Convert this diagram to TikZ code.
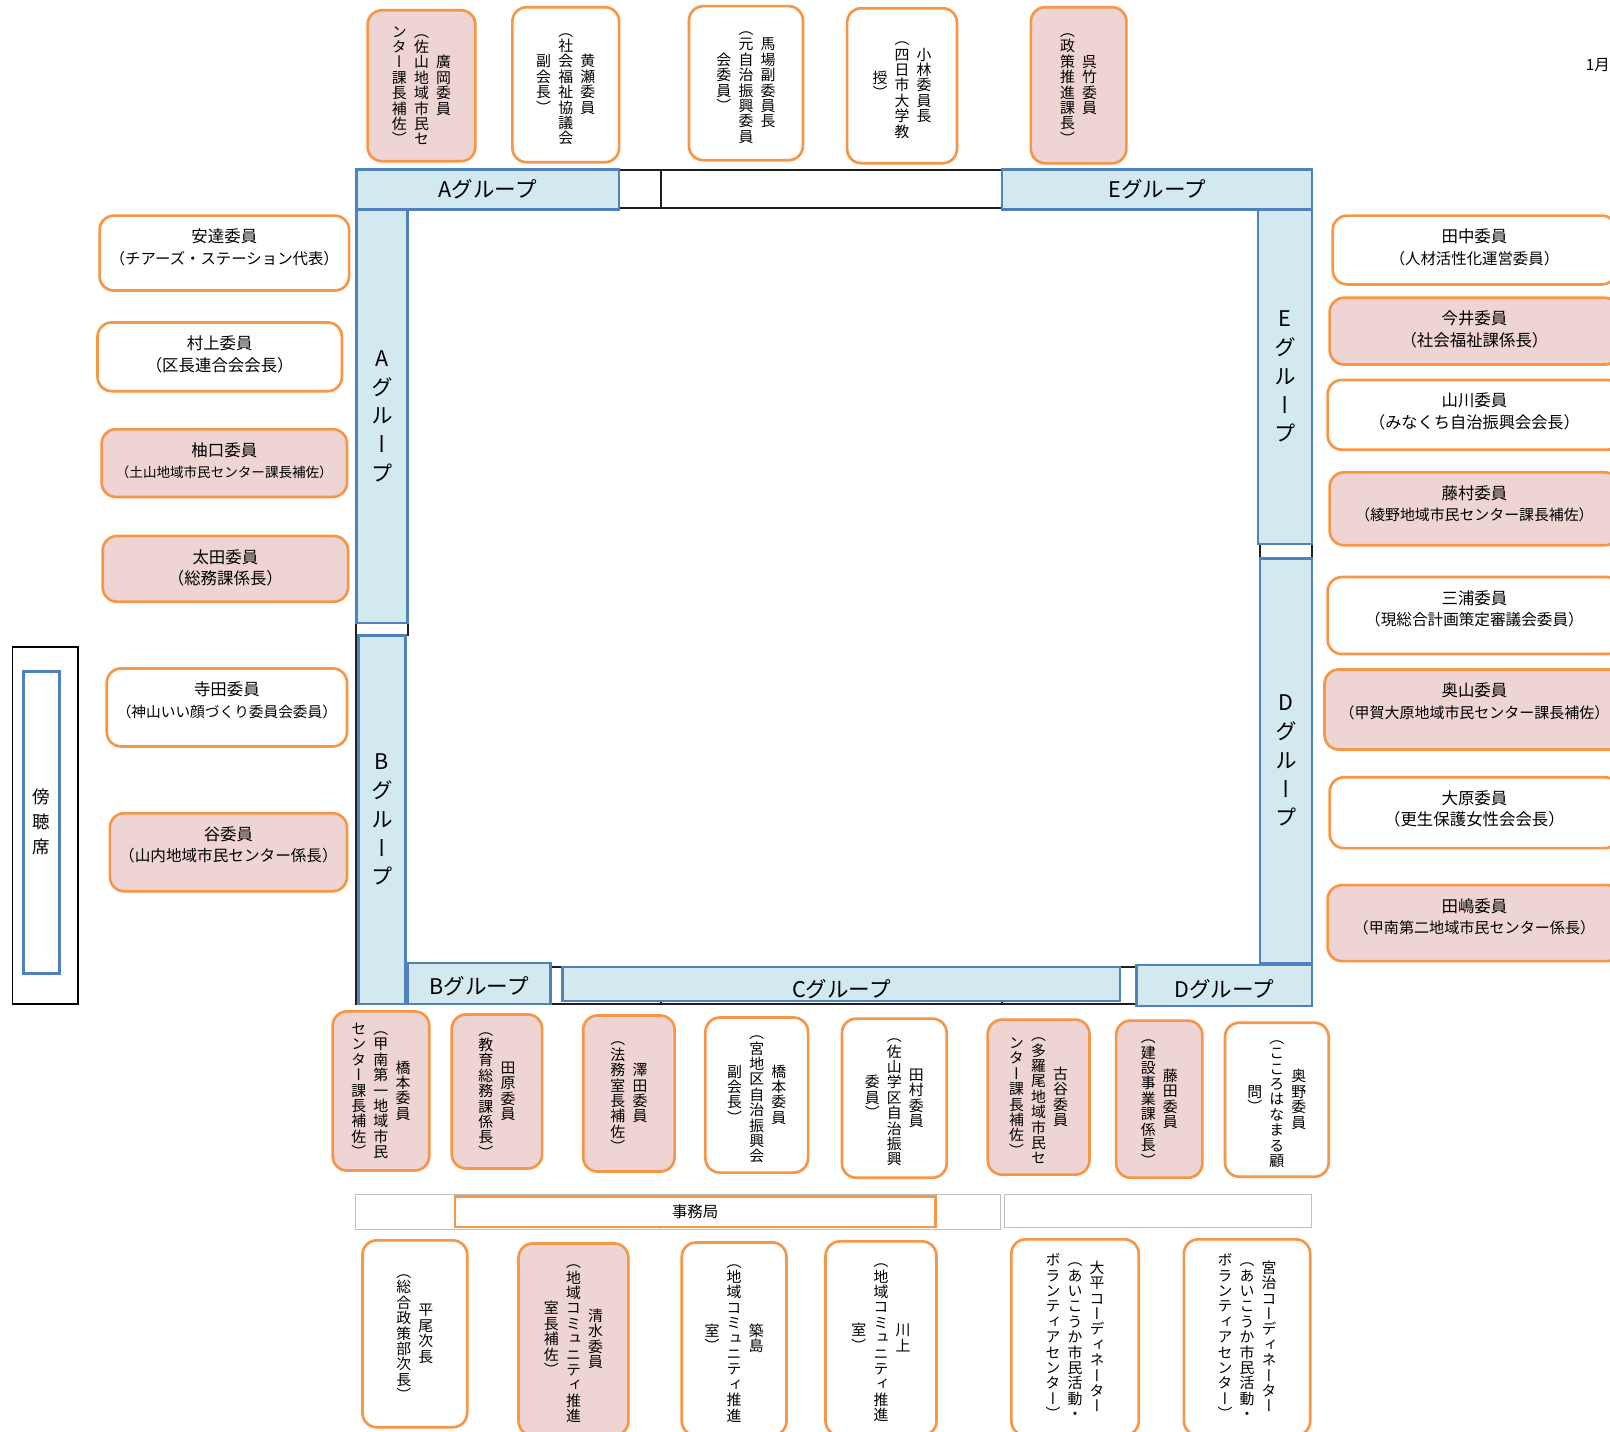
\documentclass[tikz,border=0pt]{standalone}
\usepackage{fontspec}
\setmainfont{Noto Sans CJK JP}
\newfontfamily\tatefont[RawFeature=+vert]{Noto Sans CJK JP}
\usetikzlibrary{positioning}

\definecolor{seatorange}{RGB}{247,150,70}
\definecolor{seatpink}{RGB}{239,212,212}
\definecolor{grpblue}{RGB}{79,129,189}
\definecolor{grpfill}{RGB}{210,233,239}

\ExplSyntaxOn
\NewDocumentCommand\tcol{O{15pt}m}{
  $\vcenter{\tatefont\baselineskip=#1\lineskiplimit=-\maxdimen
    \tl_map_inline:nn{#2}{\hbox{\vrule~height~.85em~depth~.15em~width~0pt\hbox~to~1em{\hss##1\hss}}}}$}
\ExplSyntaxOff

\tikzset{
  seat/.style={draw=seatorange, line width=2.6pt, rounded corners=14pt, fill=white, inner sep=0pt},
  pinkseat/.style={seat, fill=seatpink},
  tate/.style={font=\fontsize{14.5}{15}\selectfont},
  yoko/.style={font=\fontsize{16}{21}\selectfont, align=center, inner sep=0pt},
  grp/.style={draw=grpblue, fill=grpfill, line width=2.4pt, inner sep=0pt, font=\fontsize{21}{27}\selectfont},
  tableline/.style={line width=2pt, draw=black!88},
  grayline/.style={line width=1pt, draw=black!25}
}

\begin{document}
\begin{tikzpicture}[x=1pt, y=-1pt]
    \useasboundingbox (0,0) rectangle (1568,1394.6);
    \fill[white] (0,0) rectangle (1568,1394.6);
    \node[font=\fontsize{15}{18}\selectfont, anchor=west] (date) at (1541,63) {1月};

    \draw[tableline] (347,165.5) rectangle (1278,978);
    \draw[tableline] (603,202.5) -- (976,202.5);
    \draw[tableline] (644,165.5) -- (644,202.5);
    \draw[tableline] (347,607) -- (397,607) -- (397,619);
    \draw[tableline] (536,942) -- (1107,942);
    \draw[tableline] (644,942) -- (644,978);
    \draw[tableline] (976,942) -- (976,978);
    \draw[tableline] (1227,530) -- (1227,544);

    \node[grp, minimum width=256, minimum height=39] (grpAtop) at (475,184.5) {Aグループ};
    \node[grp, minimum width=302, minimum height=39] (grpEtop) at (1127,184.5) {Eグループ};
    \node[grp, minimum width=50, minimum height=403] (grpAleft) at (372,405.5) {\tcol[28pt]{Aグループ}};
    \node[grp, minimum width=46, minimum height=359] (grpBleft) at (372,798.5) {\tcol[28pt]{Bグループ}};
    \node[grp, minimum width=139, minimum height=40, text height=25pt, text depth=3pt] (grpBbot) at (466.5,958) {Bグループ};
    \node[grp, minimum width=543, minimum height=33, text height=28pt, text depth=3pt] (grpC) at (819.5,958.5) {Cグループ};
    \node[grp, minimum width=171, minimum height=40, text height=25pt, text depth=3pt] (grpDbot) at (1192.5,960) {Dグループ};
    \node[grp, minimum width=53, minimum height=326] (grpEright) at (1251.5,367) {\tcol[28pt]{Eグループ}};
    \node[grp, minimum width=51, minimum height=394] (grpDright) at (1252.5,741) {\tcol[28pt]{Dグループ}};

    \node[pinkseat, tate, minimum width=105, minimum height=147] (hirooka) at (410.5,83.5) {\tcol{ンター課長補佐）}\hspace{7pt}\tcol{（佐山地域市民セ}\hspace{7pt}\tcol{廣岡委員}};
    \node[seat, tate, minimum width=104, minimum height=151] (kise) at (551,82.5) {\tcol{副会長）}\hspace{7pt}\tcol{（社会福祉協議会}\hspace{7pt}\tcol{黄瀬委員}};
    \node[seat, tate, minimum width=111, minimum height=150] (baba) at (726.5,81) {\tcol{会委員）}\hspace{7pt}\tcol{（元自治振興委員}\hspace{7pt}\tcol{馬場副委員長}};
    \node[seat, tate, minimum width=107, minimum height=151] (kobayashi) at (878.5,83.5) {\tcol{授）}\hspace{7pt}\tcol{（四日市大学教}\hspace{7pt}\tcol{小林委員長}};
    \node[pinkseat, tate, minimum width=93, minimum height=152] (kuretake) at (1050.5,83) {\tcol{（政策推進課長）}\hspace{7pt}\tcol{呉竹委員}};

    \node[seat, minimum width=243, minimum height=73] (adachi) at (218.5,246.5) {};
    \node[yoko, below=14pt of adachi.north] (adachi-t) {安達委員\\\fontsize{15}{21}\selectfont （チアーズ・ステーション代表）};
    \node[seat, minimum width=238, minimum height=67] (murakami) at (214,347.5) {};
    \node[yoko, below=14pt of murakami.north] (murakami-t) {村上委員\\\fontsize{16}{21}\selectfont （区長連合会会長）};
    \node[pinkseat, minimum width=239, minimum height=66] (yuguchi) at (218.5,451) {};
    \node[yoko, below=14pt of yuguchi.north] (yuguchi-t) {柚口委員\\\fontsize{13.2}{21}\selectfont （土山地域市民センター課長補佐）};
    \node[pinkseat, minimum width=239, minimum height=64] (oota) at (219.5,554) {};
    \node[yoko, below=14pt of oota.north] (oota-t) {太田委員\\\fontsize{16}{21}\selectfont （総務課係長）};
    \node[seat, minimum width=234, minimum height=76] (terada) at (221,689) {};
    \node[yoko, below=14pt of terada.north] (terada-t) {寺田委員\\\fontsize{14.3}{21}\selectfont （神山いい顔づくり委員会委員）};
    \node[pinkseat, minimum width=231, minimum height=76] (tani) at (222.5,830) {};
    \node[yoko, below=14pt of tani.north] (tani-t) {谷委員\\\fontsize{15.2}{21}\selectfont （山内地域市民センター係長）};

    \node[draw, line width=1.6pt, minimum width=64, minimum height=348] (bouchou) at (44,804) {};
    \node[draw=grpblue, line width=2.5pt, minimum width=35, minimum height=294, font=\fontsize{17}{24}\selectfont] (bouchou-in) at (40.5,801) {\tcol[24pt]{傍聴席}};

    \node[seat, minimum width=276, minimum height=67] (tanaka) at (1436,243.5) {};
    \node[yoko, below=14pt of tanaka.north] (tanaka-t) {田中委員\\\fontsize{15}{21}\selectfont （人材活性化運営委員）};
    \node[pinkseat, minimum width=282, minimum height=65] (imai) at (1436,322.5) {};
    \node[yoko, below=14pt of imai.north] (imai-t) {今井委員\\\fontsize{16}{21}\selectfont （社会福祉課係長）};
    \node[seat, minimum width=286, minimum height=68] (yamakawa) at (1436,404) {};
    \node[yoko, below=14pt of yamakawa.north] (yamakawa-t) {山川委員\\\fontsize{15.8}{21}\selectfont （みなくち自治振興会会長）};
    \node[pinkseat, minimum width=282, minimum height=71] (fujimura) at (1436,495.5) {};
    \node[yoko, below=14pt of fujimura.north] (fujimura-t) {藤村委員\\\fontsize{14.5}{21}\selectfont （綾野地域市民センター課長補佐）};
    \node[seat, minimum width=286, minimum height=75] (miura) at (1436,599.5) {};
    \node[yoko, below=14pt of miura.north] (miura-t) {三浦委員\\\fontsize{15.2}{21}\selectfont （現総合計画策定審議会委員）};
    \node[pinkseat, minimum width=292, minimum height=78] (okuyama) at (1436,691) {};
    \node[yoko, below=14pt of okuyama.north] (okuyama-t) {奥山委員\\\fontsize{14.6}{21}\selectfont （甲賀大原地域市民センター課長補佐）};
    \node[seat, minimum width=282, minimum height=69] (oohara) at (1436,791.5) {};
    \node[yoko, below=14pt of oohara.north] (oohara-t) {大原委員\\\fontsize{16}{21}\selectfont （更生保護女性会会長）};
    \node[pinkseat, minimum width=286, minimum height=74] (tajima) at (1436,899) {};
    \node[yoko, below=14pt of tajima.north] (tajima-t) {田嶋委員\\\fontsize{14.7}{21}\selectfont （甲南第二地域市民センター係長）};

    \node[pinkseat, tate, minimum width=94, minimum height=155] (hashimotoA) at (371,1062.5) {\tcol{センター課長補佐）}\hspace{7pt}\tcol{（甲南第一地域市民}\hspace{7pt}\tcol{橋本委員}};
    \node[pinkseat, tate, minimum width=88, minimum height=150] (tahara) at (484,1063) {\tcol{（教育総務課係長）}\hspace{7pt}\tcol{田原委員}};
    \node[pinkseat, tate, minimum width=89, minimum height=152] (sawada) at (612.5,1065) {\tcol{（法務室長補佐）}\hspace{7pt}\tcol{澤田委員}};
    \node[seat, tate, minimum width=100, minimum height=151] (hashimotoB) at (737,1066.5) {\tcol{副会長）}\hspace{7pt}\tcol{（宮地区自治振興会}\hspace{7pt}\tcol{橋本委員}};
    \node[seat, tate, minimum width=102, minimum height=155] (tamura) at (871,1069.5) {\tcol{委員）}\hspace{7pt}\tcol{（佐山学区自治振興}\hspace{7pt}\tcol{田村委員}};
    \node[pinkseat, tate, minimum width=99, minimum height=151] (furuya) at (1011.5,1068.5) {\tcol{ンター課長補佐）}\hspace{7pt}\tcol{（多羅尾地域市民セ}\hspace{7pt}\tcol{古谷委員}};
    \node[pinkseat, tate, minimum width=84, minimum height=153] (fujita) at (1129,1070.5) {\tcol{（建設事業課係長）}\hspace{7pt}\tcol{藤田委員}};
    \node[seat, tate, minimum width=101, minimum height=150] (okuno) at (1243.5,1071) {\tcol{問）}\hspace{7pt}\tcol{（こころはなまる顧}\hspace{7pt}\tcol{奥野委員}};

    \draw[grayline] (346,1163) rectangle (974,1197);
    \draw[grayline] (643,1163) -- (643,1197);
    \draw[grayline] (978,1163) rectangle (1277,1195);
    \node[draw=seatorange, line width=2.6pt, fill=white, minimum width=468, minimum height=30, font=\fontsize{15}{18}\selectfont] (jimukyoku) at (677,1180) {事務局};

    \node[seat, tate, minimum width=102, minimum height=182] (hirao) at (404,1299) {\tcol{（総合政策部次長）}\hspace{7pt}\tcol{平尾次長}};
    \node[pinkseat, tate, minimum width=107, minimum height=187] (shimizu) at (558.5,1304.5) {\tcol{室長補佐）}\hspace{7pt}\tcol{（地域コミュニティ推進}\hspace{7pt}\tcol{清水委員}};
    \node[seat, tate, minimum width=102, minimum height=188] (tsukishima) at (715,1304) {\tcol{室）}\hspace{7pt}\tcol{（地域コミュニティ推進}\hspace{7pt}\tcol{築島}};
    \node[seat, tate, minimum width=108, minimum height=189] (kawakami) at (858,1303.5) {\tcol{室）}\hspace{7pt}\tcol{（地域コミュニティ推進}\hspace{7pt}\tcol{川上}};
    \node[seat, tate, minimum width=124, minimum height=191] (oohira) at (1047,1302.5) {\tcol{ボランティアセンター）}\hspace{7pt}\tcol{（あいこうか市民活動・}\hspace{7pt}\tcol{大平コーディネーター}};
    \node[seat, tate, minimum width=123, minimum height=191] (miyaji) at (1214.5,1302.5) {\tcol{ボランティアセンター）}\hspace{7pt}\tcol{（あいこうか市民活動・}\hspace{7pt}\tcol{宮治コーディネーター}};
\end{tikzpicture}
\end{document}
